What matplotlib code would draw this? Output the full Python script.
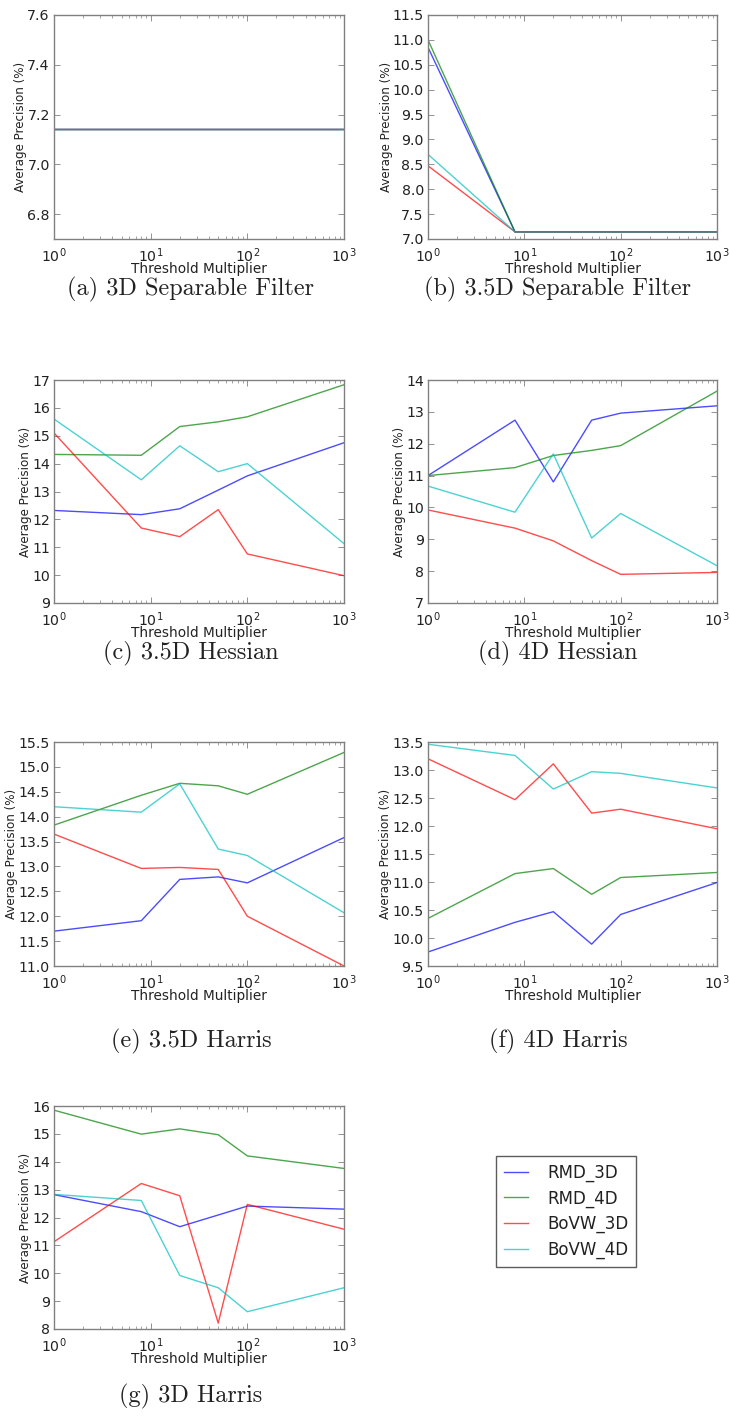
import matplotlib
matplotlib.use('Agg')
import matplotlib.pyplot as plt

# 阈值倍数 (x 轴)
thresholds = [1, 8, 20, 50, 100, 1000]

series_names = ['RMD_3D', 'RMD_4D', 'BoVW_3D', 'BoVW_4D']
series_colors = ['b', 'g', 'r', 'c']

# (a) 3D Separable Filter
a_rmd3 = [7.143, 7.143, 7.143, 7.143, 7.143, 7.143]
a_rmd4 = [7.143, 7.143, 7.143, 7.143, 7.143, 7.143]
a_bovw3 = [7.143, 7.143, 7.143, 7.143, 7.143, 7.143]
a_bovw4 = [7.143, 7.143, 7.143, 7.143, 7.143, 7.143]

# (b) 3.5D Separable Filter
b_rmd3 = [10.85, 7.143, 7.143, 7.143, 7.143, 7.143]
b_rmd4 = [11.0, 7.143, 7.143, 7.143, 7.143, 7.143]
b_bovw3 = [8.47, 7.143, 7.143, 7.143, 7.143, 7.143]
b_bovw4 = [8.7, 7.143, 7.143, 7.143, 7.143, 7.143]

# (c) 3.5D Hessian
c_rmd3 = [12.32, 12.17, 12.38, 13.05, 13.56, 14.75]
c_rmd4 = [14.33, 14.30, 15.33, 15.50, 15.68, 16.83]
c_bovw3 = [15.10, 11.69, 11.38, 12.35, 10.76, 9.98]
c_bovw4 = [15.60, 13.42, 14.64, 13.71, 14.00, 11.13]

# (d) 4D Hessian
d_rmd3 = [11.0, 12.74, 10.8, 12.74, 12.96, 13.19]
d_rmd4 = [11.0, 11.25, 11.63, 11.79, 11.94, 13.65]
d_bovw3 = [9.92, 9.35, 8.95, 8.33, 7.90, 7.96]
d_bovw4 = [10.67, 9.85, 11.68, 9.04, 9.81, 8.17]

# (e) 3.5D Harris
e_rmd3 = [11.70, 11.91, 12.74, 12.79, 12.67, 13.58]
e_rmd4 = [13.83, 14.43, 14.67, 14.62, 14.45, 15.29]
e_bovw3 = [13.65, 12.96, 12.98, 12.94, 12.00, 11.00]
e_bovw4 = [14.20, 14.09, 14.66, 13.35, 13.22, 12.07]

# (f) 4D Harris
f_rmd3 = [9.75, 10.28, 10.47, 9.89, 10.42, 10.99]
f_rmd4 = [10.35, 11.15, 11.24, 10.78, 11.08, 11.17]
f_bovw3 = [13.20, 12.47, 13.11, 12.23, 12.30, 11.95]
f_bovw4 = [13.46, 13.26, 12.66, 12.97, 12.94, 12.68]

# (g) 3D Harris
g_rmd3 = [12.82, 12.21, 11.67, 12.09, 12.41, 12.30]
g_rmd4 = [15.85, 14.99, 15.18, 14.97, 14.21, 13.76]
g_bovw3 = [11.13, 13.22, 12.78, 8.21, 12.47, 11.58]
g_bovw4 = [12.83, 12.61, 9.92, 9.48, 8.62, 9.48]

captions = ['(a) 3D Separable Filter', '(b) 3.5D Separable Filter',
            '(c) 3.5D Hessian', '(d) 4D Hessian',
            '(e) 3.5D Harris', '(f) 4D Harris', '(g) 3D Harris']

panels = [
    ([a_rmd3, a_rmd4, a_bovw3, a_bovw4], (6.7, 7.6), [6.8, 7.0, 7.2, 7.4, 7.6], '%.1f'),
    ([b_rmd3, b_rmd4, b_bovw3, b_bovw4], (7.0, 11.5), [7.0 + 0.5 * i for i in range(10)], '%.1f'),
    ([c_rmd3, c_rmd4, c_bovw3, c_bovw4], (9, 17), list(range(9, 18)), '%d'),
    ([d_rmd3, d_rmd4, d_bovw3, d_bovw4], (7, 14), list(range(7, 15)), '%d'),
    ([e_rmd3, e_rmd4, e_bovw3, e_bovw4], (11.0, 15.5), [11.0 + 0.5 * i for i in range(10)], '%.1f'),
    ([f_rmd3, f_rmd4, f_bovw3, f_bovw4], (9.5, 13.5), [9.5 + 0.5 * i for i in range(9)], '%.1f'),
    ([g_rmd3, g_rmd4, g_bovw3, g_bovw4], (8, 16), list(range(8, 17)), '%d'),
]

W, H = 730, 1418
fig = plt.figure(figsize=(W / 100, H / 100), dpi=100)

# 各子图的像素位置
col_x = [(54, 344), (428, 717)]
row_y = [(15, 239), (380, 603), (742, 966), (1106, 1329)]
cap_y = [289, 653, 1041, 1396]
cap_x = [191, 558]

spine_gray = '#808080'
axes_list = []
for i, (series, ylim, yticks, fmt) in enumerate(panels):
    row, col = divmod(i, 2)
    x0, x1 = col_x[col]
    y0, y1 = row_y[row]
    ax = fig.add_axes([x0 / W, 1 - y1 / H, (x1 - x0) / W, (y1 - y0) / H])
    for vals, name, c in zip(series, series_names, series_colors):
        ax.plot(thresholds, vals, color=c, alpha=0.7, linewidth=1.0, label=name)
    ax.set_xscale('log')
    ax.set_xlim(1, 1000)
    ax.set_ylim(*ylim)
    ax.set_yticks(yticks)
    ax.set_yticklabels([fmt % v for v in yticks])
    ax.set_xlabel('Threshold Multiplier', fontsize=9.8, labelpad=-2, color='#222222')
    ax.set_ylabel('Average Precision (%)', fontsize=8.6, labelpad=0, color='#222222')
    ax.tick_params(axis='both', which='both', direction='in', top=True, right=True,
                   labelsize=10.2, colors=spine_gray, labelcolor='#222222')
    ax.tick_params(which='major', length=4, width=0.6)
    ax.tick_params(which='minor', length=2, width=0.5)
    ax.tick_params(axis='x', pad=5)
    ax.tick_params(axis='y', pad=3)
    for s in ax.spines.values():
        s.set_color(spine_gray)
        s.set_linewidth(1.0)
    fig.text(cap_x[col] / W, 1 - cap_y[row] / H, captions[i], family='cmr10',
             fontsize=17.5, ha='center', va='center', color='#222222')
    axes_list.append(ax)

handles, labels = axes_list[-1].get_legend_handles_labels()
leg = fig.legend(handles, labels, loc='upper left',
                 bbox_to_anchor=(496 / W, 1 - 1156 / H), fontsize=12,
                 frameon=True, fancybox=False, handlelength=1.45, handletextpad=1.2,
                 borderpad=0.45, labelspacing=0.45, borderaxespad=0)
leg.get_frame().set_edgecolor('#333333')
leg.get_frame().set_linewidth(1.0)
for t in leg.get_texts():
    t.set_color('#222222')

fig.savefig('out.png', dpi=100)
